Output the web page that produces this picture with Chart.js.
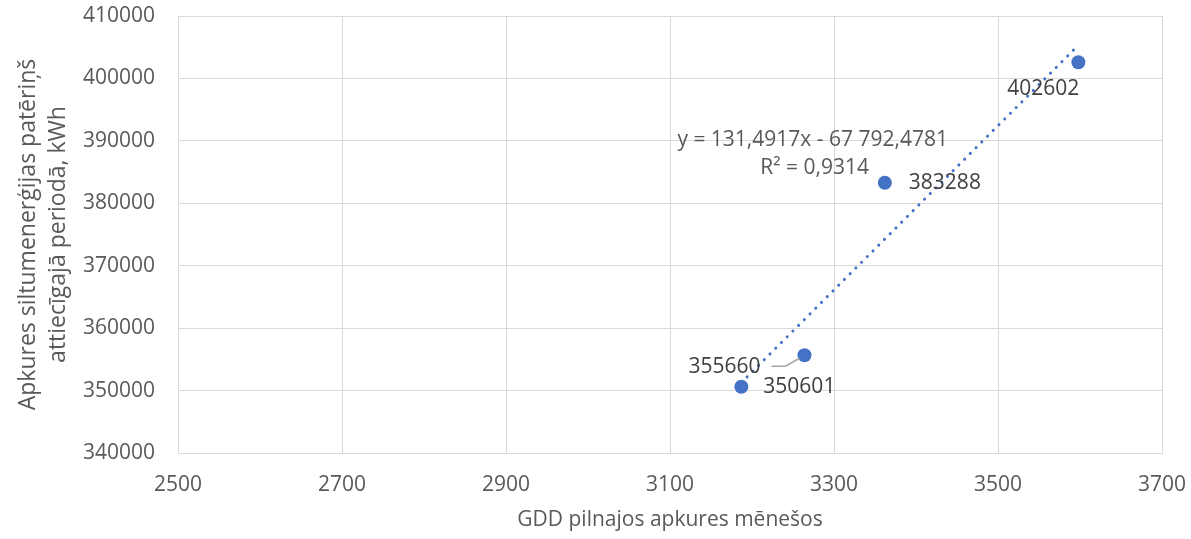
<!DOCTYPE html>
<html>
<head>
<meta charset="utf-8">
<script src="https://cdn.jsdelivr.net/npm/chart.js@4.4.0/dist/chart.umd.min.js"></script>
<style>
  html, body { margin: 0; padding: 0; background: #fff; }
  #wrap { width: 1191px; height: 539px; }
</style>
</head>
<body>
<div id="wrap"><canvas id="chart"></canvas></div>
<script>
// values
const gddValues = [3187, 3264, 3362, 3598];
const heatValues = [350601, 355660, 383288, 402602];
const xTicks = [2500, 2700, 2900, 3100, 3300, 3500, 3700];
const yTicks = [340000, 350000, 360000, 370000, 380000, 390000, 400000, 410000];
const trendSlope = 131.4917;
const trendIntercept = -67792.4781;
const trendText = ["y = 131,4917x - 67 792,4781", "R² = 0,9314"];
const xTitle = "GDD pilnajos apkures mēnešos";
const yTitle = ["Apkures siltumenerģijas patēriņš", "attiecīgajā periodā, kWh"];

const FONT = "'Open Sans', 'DejaVu Sans', sans-serif";
const BLUE = "#4472C4";

const points = gddValues.map((x, i) => ({ x: x, y: heatValues[i] }));
const xMin = Math.min(...gddValues), xMax = Math.max(...gddValues);
const trend = [xMin, xMax].map(x => ({ x: x, y: trendSlope * x + trendIntercept }));

// how each value label sits next to its point (pixels)
const labelPlace = [
  { align: "left", dx: 22, dy: 0 },
  { align: "right", dx: -44, dy: 12, leader: true },
  { align: "left", dx: 24, dy: 0 },
  { align: "center", dx: -35, dy: 27 },
];
// where the trendline equation is written, in axis units
const eqAnchor = { x: 3274, y: 390200 };

const labelsPlugin = {
  id: "labels",
  afterDatasetsDraw(chart) {
    const ctx = chart.ctx;
    const meta = chart.getDatasetMeta(1);
    ctx.save();
    ctx.font = "21px " + FONT;
    ctx.textBaseline = "middle";
    meta.data.forEach((pt, i) => {
      const p = labelPlace[i];
      if (p.leader) {
        ctx.strokeStyle = "#a6a6a6";
        ctx.lineWidth = 1.5;
        ctx.beginPath();
        ctx.moveTo(pt.x - 33, pt.y + 11);
        ctx.lineTo(pt.x - 19, pt.y + 11);
        ctx.lineTo(pt.x - 5, pt.y + 3);
        ctx.stroke();
      }
      ctx.fillStyle = "#404040";
      ctx.textAlign = p.align;
      ctx.fillText(String(heatValues[i]), pt.x + p.dx, pt.y + p.dy);
    });
    const ex = chart.scales.x.getPixelForValue(eqAnchor.x);
    const ey = chart.scales.y.getPixelForValue(eqAnchor.y);
    ctx.fillStyle = "#595959";
    ctx.textAlign = "center";
    ctx.fillText(trendText[0], ex, ey);
    ctx.fillText(trendText[1], ex + 2, ey + 28);
    ctx.restore();
  }
};

const ctx = document.getElementById("chart").getContext("2d");
new Chart(ctx, {
  type: "scatter",
  data: {
    datasets: [
      {
        type: "line",
        data: trend,
        borderColor: BLUE,
        borderWidth: 3,
        borderDash: [0.1, 8],
        borderCapStyle: "round",
        pointRadius: 0,
        fill: false,
        order: 2,
      },
      {
        data: points,
        backgroundColor: BLUE,
        borderColor: BLUE,
        borderWidth: 0,
        pointRadius: 7,
        order: 1,
      },
    ],
  },
  options: {
    responsive: true,
    maintainAspectRatio: false,
    animation: false,
    layout: { padding: { top: 16, right: 29, bottom: 0, left: 0 } },
    plugins: {
      legend: { display: false },
      tooltip: { enabled: false },
    },
    scales: {
      x: {
        type: "linear",
        min: 2500,
        max: 3700,
        afterBuildTicks: s => { s.ticks = xTicks.map(v => ({ value: v })); },
        afterFit: s => { s.height = 86; s.paddingLeft = 0; s.paddingRight = 0; },
        ticks: {
          callback: v => String(v),
          color: "#595959",
          font: { family: FONT, size: 21 },
          padding: 19,
          maxRotation: 0,
        },
        grid: { color: "#d9d9d9", lineWidth: 1, drawTicks: false },
        border: { color: "#d9d9d9" },
        title: {
          display: true,
          text: xTitle,
          color: "#595959",
          font: { family: FONT, size: 21, lineHeight: 1.2 },
          padding: { top: 4, bottom: 6 },
        },
      },
      y: {
        type: "linear",
        min: 340000,
        max: 410000,
        afterBuildTicks: s => { s.ticks = yTicks.map(v => ({ value: v })); },
        afterFit: s => { s.width = 178; s.paddingTop = 0; s.paddingBottom = 0; },
        ticks: {
          callback: v => String(v),
          color: "#595959",
          font: { family: FONT, size: 21 },
          padding: 23,
        },
        grid: { color: "#d9d9d9", lineWidth: 1, drawTicks: false },
        border: { color: "#d9d9d9" },
        title: {
          display: true,
          text: yTitle,
          color: "#595959",
          font: { family: FONT, size: 23, lineHeight: 1.3 },
          padding: { top: 14, bottom: 4 },
        },
      },
    },
  },
  plugins: [labelsPlugin],
});
</script>
</body>
</html>
